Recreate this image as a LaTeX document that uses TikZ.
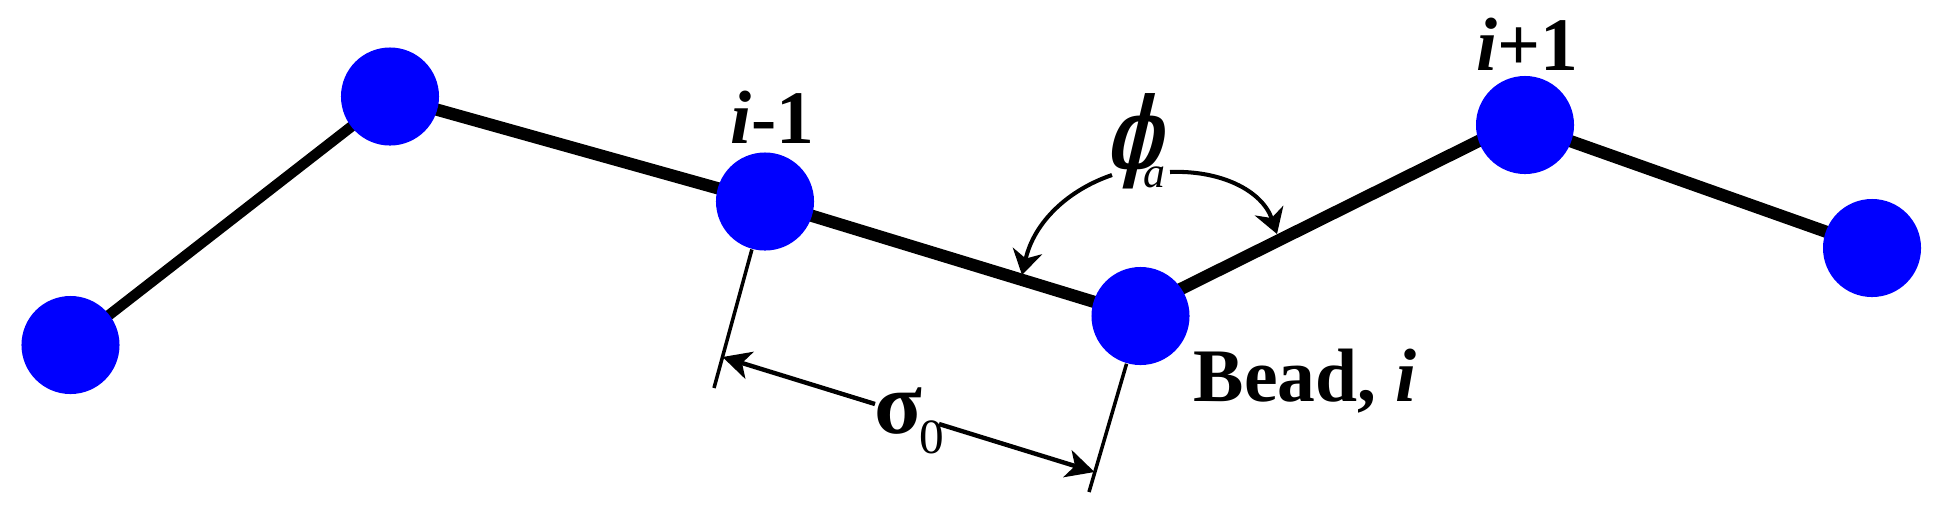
\documentclass[tikz,border=0pt]{standalone}
\usepackage{fontspec}
\setmainfont{Liberation Serif}
\newfontfamily\phifam[FakeSlant=0.4]{DejaVu Serif}
\usetikzlibrary{arrows.meta}
\tikzset{
  bead/.style={circle, fill=blue, draw=none, inner sep=0pt, minimum size=0.98cm},
  bond/.style={line width=3.5pt},
  thinbond/.style={line width=3.0pt},
  extline/.style={line width=1.0pt},
  dimline/.style={line width=1.25pt, -{Stealth[length=8pt,width=8pt,inset=2.2pt]}},
  anglearc/.style={line width=1.15pt, -{Stealth[length=7pt,width=8.5pt,inset=2.2pt]}},
  lbl/.style={font=\fontsize{21.5}{26}\selectfont\bfseries, inner sep=0pt},
}
\begin{document}
\begin{tikzpicture}[x=0.01cm, y=-0.01cm]
\useasboundingbox (0,0) rectangle (1940,511);
% bead centres
\coordinate (p1) at (70.5,345);
\coordinate (p2) at (390,96.5);
\coordinate (p3) at (765,201.5);
\coordinate (p4) at (1140.5,316);
\coordinate (p5) at (1525,125);
\coordinate (p6) at (1872,248);
% bonds
\draw[thinbond] (p1) -- (p2);
\draw[bond] (p2) -- (p3) -- (p4);
\draw[bond] ([yshift=2pt]p4) -- ([yshift=2pt]p5);
\draw[bond] (p5) -- (p6);
% beads
\node[bead] (b1) at (p1) {};
\node[bead] (b2) at (p2) {};
\node[bead] (b3) at (p3) {};
\node[bead] (b4) at (p4) {};
\node[bead] (b5) at (p5) {};
\node[bead] (b6) at (p6) {};
% extension lines
\coordinate (e1) at (714,388);
\coordinate (e2) at (1089,492);
\draw[extline] (b3) -- (e1);
\draw[extline] (b4) -- (e2);
% dimension sigma_0
\coordinate (dL) at (722.5,357);
\coordinate (dR) at (1094.5,472);
\coordinate (gL) at (875,404);
\coordinate (gR) at (939,424);
\draw[dimline] (gL) -- (dL);
\draw[dimline] (gR) -- (dR);
\node[inner sep=0pt, anchor=base west] (sig) at (874,433)
  {\fontsize{25}{30}\selectfont\bfseries σ\kern-1pt\raisebox{-5.7pt}{\fontsize{14}{16}\selectfont\mdseries 0}};
% bond angle phi_a
\coordinate (aL) at (1112,175);
\coordinate (tL) at (1022,275);
\coordinate (aR) at (1170,172);
\coordinate (tR) at (1277,234);
\draw[anglearc] (aL) .. controls (1068,190) and (1034,222) .. (tL);
\draw[anglearc] (aR) .. controls (1220,170) and (1262,190) .. (tR);
\node[inner sep=0pt, anchor=base west] (phi) at (1105,168)
  {\rlap{\scalebox{0.72}[1.22]{\phifam\bfseries\fontsize{23}{28}\selectfont ϕ}}\hspace{10.8pt}\raisebox{-5.6pt}{\fontsize{12.5}{15}\selectfont\itshape a}};
% labels
\node[lbl, anchor=base] (lim1) at (772,143) {\textit{i}-1};
\node[lbl, anchor=base] (lip1) at (1527,70) {\textit{i}+1};
\node[lbl, anchor=base west] (lbead) at (1193,401) {Bead, \textit{i}};
\end{tikzpicture}
\end{document}
